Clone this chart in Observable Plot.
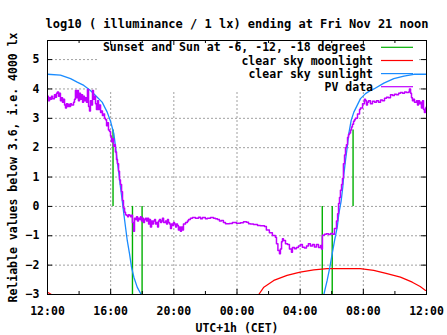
<!DOCTYPE html>
<html><head><meta charset="utf-8">
<script src="https://cdn.jsdelivr.net/npm/d3@7"></script>
<script src="https://cdn.jsdelivr.net/npm/@observablehq/plot@0.6"></script>
<style>body{margin:0;background:#fff;}</style>
</head><body><div id="chart"></div>
<script>
// ---- data (hours since Thu 12:00 CET) ----
const xTickHours = [0, 4, 8, 12, 16, 20, 24];
const xTickLabels = ["12:00", "16:00", "20:00", "00:00", "04:00", "08:00", "12:00"];
const xMinorHours = [2, 6, 10, 14, 18, 22];
const xGridHours = [4, 8, 12, 16, 20];
const yTicks = [-3, -2, -1, 0, 1, 2, 3, 4, 5];
const yGrid = [-2, -1, 0, 1, 2, 3, 4, 5];

const pvHours = [0.00,0.06,0.13,0.19,0.25,0.32,0.44,0.51,0.57,0.63,0.70,0.76,0.82,0.89,0.95,1.01,1.08,1.14,1.20,1.27,1.33,1.39,1.46,1.52,1.65,1.71,1.77,1.84,1.90,1.96,2.03,2.09,2.15,2.22,2.28,2.34,2.41,2.47,2.53,2.60,2.66,2.72,2.79,2.85,2.91,2.98,3.04,3.10,3.17,3.23,3.29,3.36,3.42,3.48,3.55,3.61,3.67,3.74,3.80,3.86,3.93,3.99,4.05,4.12,4.18,4.24,4.30,4.37,4.43,4.50,4.56,4.62,4.69,4.75,4.81,4.88,4.94,5.00,5.07,5.13,5.19,5.26,5.32,5.38,5.45,5.51,5.57,5.64,5.70,5.76,5.83,5.89,5.95,6.02,6.08,6.14,6.21,6.27,6.33,6.40,6.46,6.52,6.59,6.65,6.71,6.78,6.84,6.90,6.97,7.03,7.09,7.16,7.22,7.28,7.35,7.47,7.54,7.60,7.66,7.73,7.79,7.85,7.92,7.98,8.04,8.11,8.17,8.23,8.29,8.36,8.42,8.48,8.55,8.61,8.74,8.86,8.93,9.05,9.18,9.37,9.56,9.69,9.81,10.00,10.13,10.32,10.51,10.63,10.76,10.89,11.01,11.14,11.27,11.52,11.71,11.96,12.22,12.41,12.60,12.73,12.85,13.04,13.30,13.48,13.74,13.86,14.05,14.24,14.43,14.50,14.59,14.69,14.75,14.82,14.88,14.94,15.07,15.20,15.32,15.45,15.51,15.64,15.76,15.89,16.02,16.14,16.27,16.40,16.52,16.65,16.78,16.90,17.03,17.16,17.29,17.35,17.41,17.54,17.66,17.79,17.92,18.05,18.17,18.30,18.37,18.43,18.49,18.55,18.62,18.68,18.74,18.81,18.87,18.93,19.00,19.06,19.12,19.19,19.25,19.31,19.38,19.44,19.50,19.63,19.76,19.82,19.95,20.07,20.14,20.20,20.26,20.33,20.45,20.58,20.71,20.83,20.96,21.09,21.21,21.34,21.47,21.59,21.72,21.85,21.97,22.10,22.23,22.35,22.48,22.61,22.73,22.86,22.92,22.99,23.05,23.11,23.18,23.24,23.37,23.43,23.49,23.56,23.62,23.68,23.75,23.81,23.87,23.94,24.00];
const pvValues = [3.75,3.6,3.7,3.65,3.75,3.67,3.8,3.72,3.85,3.9,3.75,3.85,3.6,3.7,3.55,3.65,3.45,3.35,3.5,3.4,3.48,3.4,3.5,3.45,3.55,3.65,3.95,3.7,3.95,3.6,3.85,3.65,3.8,3.55,3.75,3.6,3.7,3.55,3.98,3.4,3.25,3.6,3.45,3.95,3.65,3.75,3.5,3.3,3.6,3.3,3.45,3.2,3.25,3.1,3.15,3.0,2.95,2.75,2.85,2.6,2.55,2.4,2.2,2.3,2.05,2.1,1.85,1.6,1.45,1.2,0.9,0.75,0.5,0.2,-0.05,-0.2,-0.28,-0.3,-0.35,-0.28,-0.3,-0.35,-0.3,-0.55,-0.85,-0.4,-0.45,-0.35,-0.5,-0.4,-0.45,-0.35,-0.5,-0.4,-0.55,-0.45,-0.4,-0.5,-0.4,-0.6,-0.45,-0.7,-0.5,-0.6,-0.5,-0.45,-0.6,-0.55,-0.7,-0.5,-0.45,-0.55,-0.5,-0.4,-0.55,-0.5,-0.6,-0.45,-0.55,-0.6,-0.75,-0.6,-0.65,-0.55,-0.6,-0.7,-0.6,-0.65,-0.8,-0.7,-0.85,-0.7,-0.8,-0.6,-0.55,-0.5,-0.45,-0.4,-0.38,-0.4,-0.37,-0.42,-0.38,-0.42,-0.4,-0.38,-0.4,-0.42,-0.45,-0.5,-0.48,-0.55,-0.59,-0.58,-0.55,-0.57,-0.56,-0.52,-0.54,-0.59,-0.6,-0.62,-0.65,-0.66,-0.68,-0.8,-0.9,-0.99,-1.05,-1.27,-1.5,-1.61,-1.45,-1.2,-1.1,-1.16,-1.27,-1.3,-1.45,-1.56,-1.4,-1.44,-1.4,-1.35,-1.3,-1.39,-1.42,-1.35,-1.27,-1.35,-1.3,-1.38,-1.3,-1.4,-1.33,-1.45,-0.98,-0.95,-0.93,-0.96,-0.92,-0.95,-0.75,-0.5,-0.25,0.1,0.3,0.55,0.75,0.95,1.45,1.75,2.0,2.1,2.35,2.45,2.5,2.6,2.7,2.8,2.9,2.95,3.0,3.15,3.3,3.35,3.5,3.65,3.6,3.45,3.55,3.6,3.5,3.58,3.55,3.6,3.55,3.62,3.6,3.68,3.72,3.7,3.8,3.78,3.82,3.8,3.85,3.88,3.85,3.9,3.88,3.9,4.0,3.85,3.7,3.6,3.65,3.55,3.6,3.45,3.6,3.5,3.55,3.35,3.6,3.3,3.2,3.35,3.4];

const sunHours = [0,0.82,1.46,1.88,2.3,2.72,3.15,3.46,3.78,3.99,4.2,4.31,4.41,4.52,4.62,4.73,4.83,4.94,5.05,5.19,5.32,5.47,5.68,5.93,12,17.5,17.71,17.88,18.03,18.18,18.35,18.45,18.6,18.7,18.77,18.87,18.98,19.08,19.23,19.4,19.61,19.82,20.14,20.46,20.67,21.3,21.93,22.57,23.2,24];
const sunValues = [4.5,4.47,4.35,4.23,4.12,3.95,3.72,3.55,3.21,2.9,2.48,2.02,1.57,1.12,0.66,0.2,-0.24,-0.7,-1.16,-1.6,-2.07,-2.41,-2.75,-3.0,NaN,-3.0,-2.52,-2.07,-1.61,-1.16,-0.7,-0.25,0.2,0.66,1.11,1.57,2.02,2.48,2.93,3.21,3.44,3.67,3.84,3.95,4.0,4.2,4.35,4.44,4.5,4.5];

const moonHours = [0,0.25,6,13.38,13.7,14.33,15.17,16.0,16.86,17.7,19.8,20.66,21.5,22.35,23.1,23.6,23.94];
const moonValues = [-2.92,-3.0,NaN,-3.0,-2.75,-2.52,-2.35,-2.24,-2.16,-2.12,-2.12,-2.18,-2.29,-2.41,-2.58,-2.73,-2.86];

const eventHours = [4.15, 5.38, 5.99, 17.4, 18.03, 19.35];
const eventTop = [2.6, 0, 0, 0, 0, 2.6];
const eventBottom = [0, -3, -3, -3, -3, 0];

const titleText = "log10 ( illuminance / 1 lx) ending at Fri Nov 21 noon";
const xLabel = "UTC+1h (CET)";
const yLabel = "Reliable values below 3.6, i.e. 4000 lx";
const legendLabels = ["Sunset and Sun at -6, -12, -18 degrees", "clear sky moonlight", "clear sky sunlight", "PV data"];

const GREEN = "#00b000", RED = "#ff0000", BLUE = "#1a8cff", PURPLE = "#c000ff", GRID = "#a0a0a0";
const legendColors = [GREEN, RED, BLUE, PURPLE];

// ---- tables ----
const pv = pvHours.map((h, i) => ({h, v: pvValues[i]}));
const sun = sunHours.map((h, i) => ({h, v: sunValues[i]}));
const moon = moonHours.map((h, i) => ({h, v: moonValues[i]}));
const events = eventHours.map((h, i) => ({h, top: eventTop[i], bottom: eventBottom[i]}));

const W = 447, H = 335, mL = 47, mR = 21, mT = 40, mB = 41;
const plotW = W - mL - mR, plotH = H - mT - mB;
const font = "'DejaVu Sans Mono', monospace";

const chart = Plot.plot({
  width: W, height: H,
  marginLeft: mL, marginRight: mR, marginTop: mT, marginBottom: mB,
  x: {domain: [0, 24], axis: null},
  y: {domain: [-3, 5.65], axis: null},
  style: {fontFamily: font, fontSize: "11.5px", fontWeight: "bold", background: "white", color: "black", overflow: "visible"},
  marks: [
    Plot.ruleX(xGridHours, {stroke: GRID, strokeDasharray: "2,2"}),
    Plot.ruleY(yGrid, {stroke: GRID, strokeDasharray: "2,2"}),
    Plot.ruleX(events, {x: "h", y1: "bottom", y2: "top", stroke: GREEN, strokeWidth: 1.4}),
    Plot.line(moon, {x: "h", y: "v", stroke: RED, strokeWidth: 1.2, clip: true}),
    Plot.line(sun, {x: "h", y: "v", stroke: BLUE, strokeWidth: 1.3, clip: true}),
    Plot.line(pv, {x: "h", y: "v", stroke: PURPLE, strokeWidth: 1.5, curve: "step-after", clip: true}),
    // ticks (inward, on all four sides)
    Plot.ruleX(xTickHours, {stroke: "black", insetTop: plotH - 5}),
    Plot.ruleX(xTickHours, {stroke: "black", insetBottom: plotH - 5}),
    Plot.ruleX(xMinorHours, {stroke: "black", insetTop: plotH - 3}),
    Plot.ruleX(xMinorHours, {stroke: "black", insetBottom: plotH - 3}),
    Plot.ruleY(yTicks, {stroke: "black", insetRight: plotW - 5}),
    Plot.ruleY(yTicks, {stroke: "black", insetLeft: plotW - 5}),
    Plot.frame({stroke: "black"}),
    Plot.axisX(xTickHours, {tickSize: 0, tickPadding: 12, tickFormat: (d, i) => xTickLabels[i], fontSize: 11.5, fontWeight: "bold", label: null}),
    Plot.axisY(yTicks, {tickSize: 0, tickPadding: 8, fontSize: 11.5, fontWeight: "bold", label: null}),
    Plot.text([titleText], {frameAnchor: "top", dy: -21, fontSize: 12, fontWeight: "bold", fill: "black"}),
    Plot.text([xLabel], {frameAnchor: "bottom", dy: 37, fontSize: 11.5, fontWeight: "bold", fill: "black"}),
    Plot.text([yLabel], {frameAnchor: "left", textAnchor: "middle", dx: -34, rotate: -90, fontSize: 11.5, fontWeight: "bold", fill: "black"})
  ]
});

document.getElementById("chart").appendChild(chart);

// opaque key box: hide the grid behind the key (inserted right after the two grid layers)
const svg = d3.select(chart);
const box = document.createElementNS("http://www.w3.org/2000/svg", "rect");
box.setAttribute("x", 99); box.setAttribute("y", 41);
box.setAttribute("width", 319); box.setAttribute("height", 51);
box.setAttribute("fill", "white");
const groups = Array.from(chart.children).filter(n => n.tagName.toLowerCase() === "g");
chart.insertBefore(box, groups[2]);

// legend
const leg = svg.append("g").attr("font-family", font).attr("font-size", "11.5px").attr("font-weight", "bold");
const rowY = [47.3, 60.5, 73.6, 86.7];
const textRight = [366, 373, 373, 373];
legendLabels.forEach((lab, i) => {
  leg.append("text").attr("x", textRight[i]).attr("y", rowY[i]).attr("dy", "0.35em")
    .attr("text-anchor", "end").attr("fill", "black").text(lab);
  leg.append("line").attr("x1", 381).attr("x2", 413).attr("y1", rowY[i]).attr("y2", rowY[i])
    .attr("stroke", legendColors[i]).attr("stroke-width", 1.2);
});
</script>
</body></html>
